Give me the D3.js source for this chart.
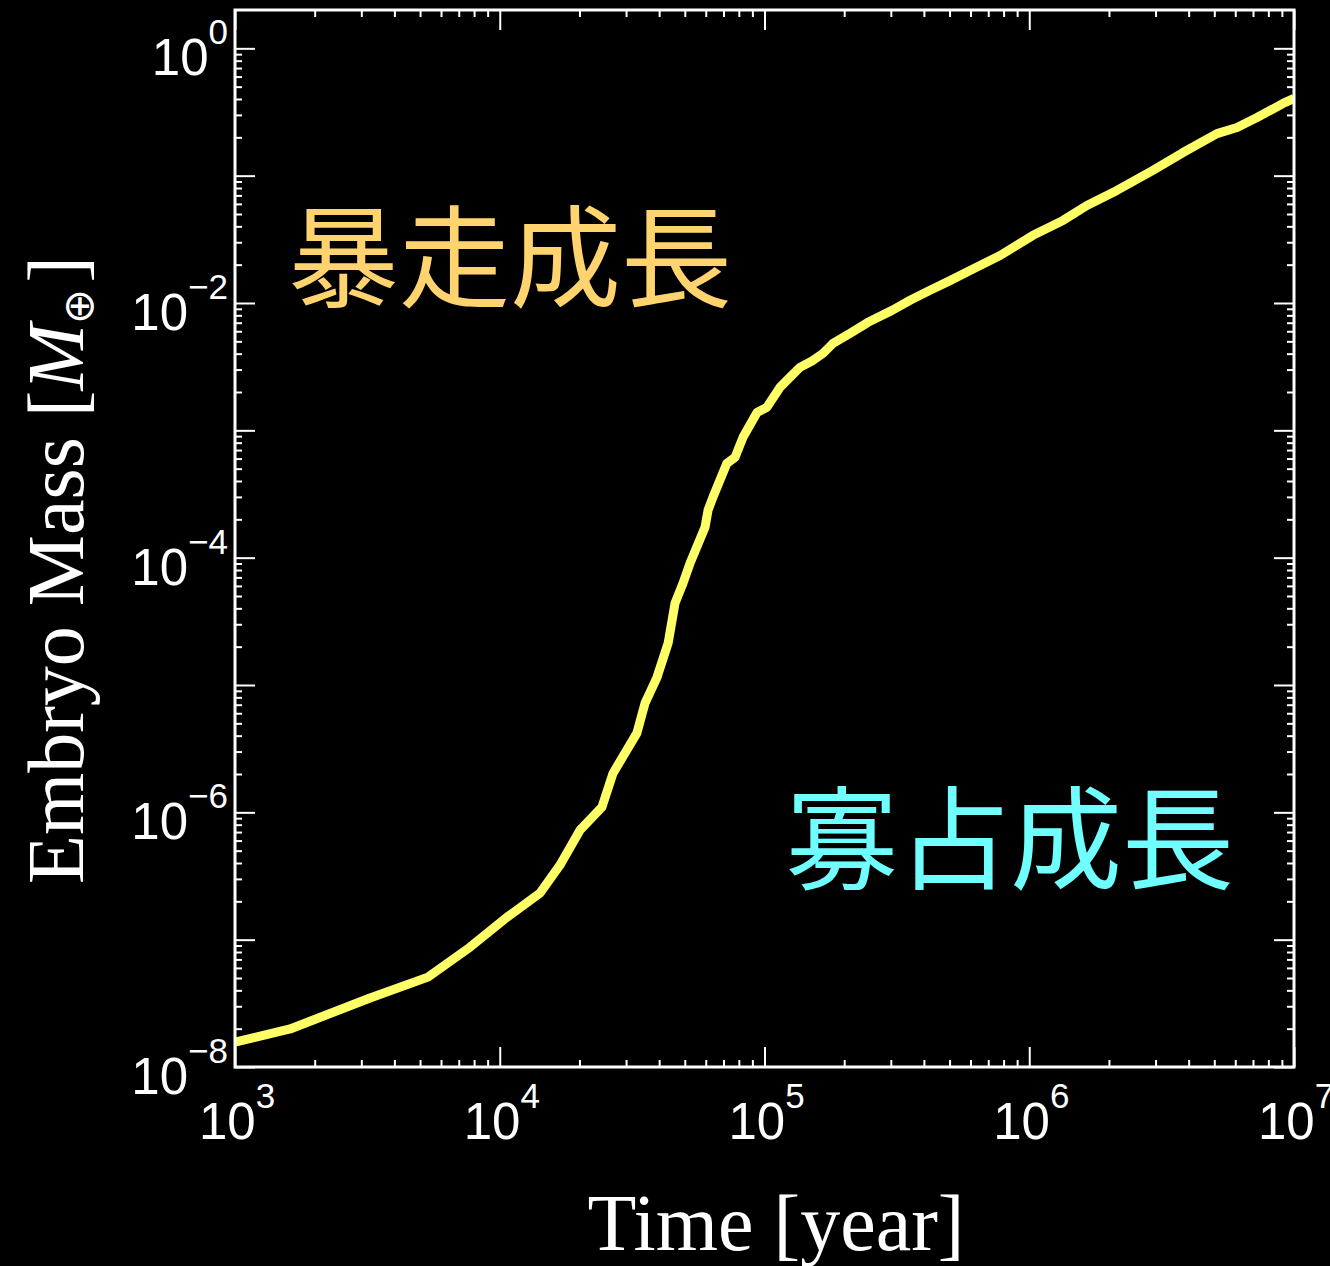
<!DOCTYPE html>
<html>
<head>
<meta charset="utf-8">
<script src="https://cdn.jsdelivr.net/npm/d3@7/dist/d3.min.js"></script>
<style>
  html, body { margin: 0; padding: 0; background: #000; }
  svg { display: block; }
</style>
</head>
<body>
<script>
// Growth of a protoplanetary embryo: time [yr] vs mass [Earth masses]
const timeYears = [
  1.0e3, 1.615e3, 3.236e3, 5.355e3, 7.727e3, 1.0645e4, 1.419e4, 1.69e4, 2.009e4,
  2.432e4, 2.679e4, 3.296e4, 3.538e4, 3.926e4, 4.325e4, 4.592e4, 4.922e4, 5.233e4,
  5.96e4, 6.12e4, 6.385e4, 7.21e4, 7.738e4, 8.294e4, 9.372e4, 1.021e5, 1.145e5,
  1.248e5, 1.361e5, 1.524e5, 1.663e5, 1.814e5, 2.104e5, 2.46e5, 3.033e5, 3.548e5,
  4.22e5, 5.02e5, 5.973e5, 7.758e5, 1.033e6, 1.341e6, 1.651e6, 2.143e6, 2.931e6,
  3.808e6, 5.118e6, 6.093e6, 7.25e6, 9.087e6, 1.0e7
];
const embryoMass = [
  1.57e-8, 1.99e-8, 3.48e-8, 5.08e-8, 8.75e-8, 1.50e-7, 2.32e-7, 3.86e-7, 7.24e-7,
  1.10e-6, 2.03e-6, 4.19e-6, 7.20e-6, 1.15e-5, 2.13e-5, 4.39e-5, 6.30e-5, 9.04e-5,
  1.73e-4, 2.36e-4, 2.98e-4, 5.51e-4, 6.14e-4, 8.81e-4, 1.38e-3, 1.52e-3, 2.18e-3,
  2.61e-3, 3.12e-3, 3.54e-3, 4.02e-3, 4.82e-3, 5.77e-3, 7.05e-3, 8.75e-3, 1.05e-2,
  1.26e-2, 1.50e-2, 1.80e-2, 2.36e-2, 3.40e-2, 4.45e-2, 5.83e-2, 7.66e-2, 0.110,
  0.152, 0.214, 0.239, 0.286, 0.369, 0.404
];

// Tick exponents for the two log axes
const xExponents = [3, 4, 5, 6, 7];
const yExponents = [0, -2, -4, -6, -8];

const W = 1330, H = 1266;
const plot = { left: 235, right: 1294, top: 10, bottom: 1067 };

const svg = d3.select("body").append("svg")
  .attr("width", W).attr("height", H);

svg.append("rect").attr("width", W).attr("height", H).attr("fill", "#000");

const x = d3.scaleLog().domain([1e3, 1e7]).range([plot.left, plot.right]);
const y = d3.scaleLog().domain([1e-8, 2]).range([plot.bottom, plot.top]);

// Major (decade) and minor (2..9 x decade) tick values
function logTicks(scale) {
  const [a, b] = scale.domain();
  const lo = Math.floor(Math.log10(a)), hi = Math.ceil(Math.log10(b));
  const major = [], minor = [];
  for (let e = lo; e <= hi; e++) {
    const p = Math.pow(10, e);
    if (p >= a && p <= b) major.push(p);
    for (let k = 2; k <= 9; k++) {
      const v = k * p;
      if (v > a && v < b) minor.push(v);
    }
  }
  return { major, minor };
}
const xt = logTicks(x), yt = logTicks(y);

const MAJ = 20, MIN = 7;
const tickStyle = g => {
  g.select(".domain").remove();
  g.selectAll(".tick line").attr("stroke", "#fff").attr("stroke-width", 2);
  g.selectAll(".tick text").remove();
};

// Inward ticks on all four sides
const axes = svg.append("g");
[[xt.major, MAJ], [xt.minor, MIN]].forEach(([vals, len]) => {
  axes.append("g").attr("transform", `translate(0,${plot.bottom})`)
    .call(d3.axisBottom(x).tickValues(vals).tickSize(-len).tickFormat(""))
    .call(tickStyle);
  axes.append("g").attr("transform", `translate(0,${plot.top})`)
    .call(d3.axisTop(x).tickValues(vals).tickSize(-len).tickFormat(""))
    .call(tickStyle);
});
[[yt.major, MAJ], [yt.minor, MIN]].forEach(([vals, len]) => {
  axes.append("g").attr("transform", `translate(${plot.left},0)`)
    .call(d3.axisLeft(y).tickValues(vals).tickSize(-len).tickFormat(""))
    .call(tickStyle);
  axes.append("g").attr("transform", `translate(${plot.right},0)`)
    .call(d3.axisRight(y).tickValues(vals).tickSize(-len).tickFormat(""))
    .call(tickStyle);
});

// Curve, clipped to the plot frame
svg.append("clipPath").attr("id", "plotclip")
  .append("rect")
  .attr("x", plot.left).attr("y", plot.top)
  .attr("width", plot.right - plot.left).attr("height", plot.bottom - plot.top);

const pts = timeYears.map((t, i) => [t, embryoMass[i]]);
svg.append("path")
  .datum(pts)
  .attr("clip-path", "url(#plotclip)")
  .attr("fill", "none")
  .attr("stroke", "#ffff66")
  .attr("stroke-width", 9)
  .attr("stroke-linejoin", "round")
  .attr("stroke-linecap", "butt")
  .attr("d", d3.line().x(d => x(d[0])).y(d => y(d[1])));

// Frame
svg.append("rect")
  .attr("x", plot.left).attr("y", plot.top)
  .attr("width", plot.right - plot.left).attr("height", plot.bottom - plot.top)
  .attr("fill", "none").attr("stroke", "#fff").attr("stroke-width", 3);

// Tick labels 10^n
const labelFont = "'Liberation Sans', Arial, Helvetica, sans-serif";
function powLabel(sel, exp) {
  sel.append("tspan").text("10");
  sel.append("tspan").attr("font-size", 35).attr("dy", -31)
    .text(exp < 0 ? "\u2212" + (-exp) : String(exp));
}
xExponents.forEach(e => {
  const t = svg.append("text")
    .attr("x", x(Math.pow(10, e)) + 2).attr("y", 1139)
    .attr("text-anchor", "middle")
    .attr("font-family", labelFont).attr("font-size", 51).attr("fill", "#fff");
  powLabel(t, e);
});
yExponents.forEach(e => {
  const t = svg.append("text")
    .attr("x", 228).attr("y", y(Math.pow(10, e)) + 27)
    .attr("text-anchor", "end")
    .attr("font-family", labelFont).attr("font-size", 51).attr("fill", "#fff");
  powLabel(t, e);
});

// Axis titles
const serif = "'Liberation Serif', 'Times New Roman', Times, serif";
svg.append("text")
  .attr("x", 776).attr("y", 1250)
  .attr("text-anchor", "middle")
  .attr("font-family", serif).attr("font-size", 80).attr("fill", "#fff")
  .text("Time [year]");

const yt_ = svg.append("text")
  .attr("transform", "translate(83,570) rotate(-90)")
  .attr("text-anchor", "middle")
  .attr("font-family", serif).attr("font-size", 80).attr("fill", "#fff");
yt_.append("tspan").text("Embryo Mass [");
yt_.append("tspan").attr("font-style", "italic").text("M");
yt_.append("tspan").attr("font-family", "'DejaVu Sans', sans-serif")
  .attr("font-size", 42).attr("dy", 10).text("\u2295");
yt_.append("tspan").attr("dy", -10).attr("dx", 6).text("]");

// Growth regime annotations
const cjk = "'Noto Sans CJK JP', 'Noto Sans CJK TC', sans-serif";
svg.append("text")
  .attr("x", 288).attr("y", 299)
  .attr("font-family", cjk).attr("font-size", 111).attr("fill", "#ffd36e")
  .text("暴走成長");
svg.append("text")
  .attr("x", 786).attr("y", 881)
  .attr("font-family", cjk).attr("font-size", 112).attr("fill", "#70ffff")
  .text("寡占成長");
</script>
</body>
</html>
